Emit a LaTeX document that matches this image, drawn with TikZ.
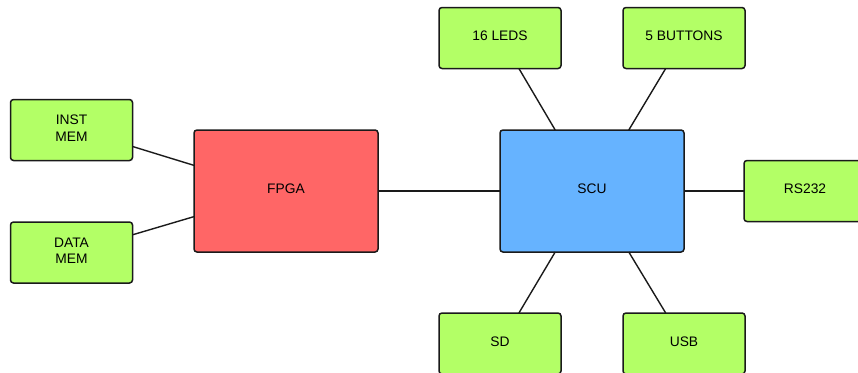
\documentclass[tikz,border=0pt]{standalone}
\usepackage{fontspec}
\setmainfont{Liberation Sans}
\usetikzlibrary{calc}
\definecolor{boxgreen}{HTML}{B3FF66}
\definecolor{boxred}{HTML}{FF6666}
\definecolor{boxblue}{HTML}{66B3FF}
\definecolor{edge}{HTML}{1A1A1A}
\begin{document}
\begin{tikzpicture}[x=1pt,y=-1pt,
  block/.style={draw=edge, line width=1.5pt, rounded corners=3pt,
    align=center, inner sep=0pt, outer sep=0pt,
    font=\fontsize{13.8}{16.6}\selectfont,
    text height=10pt, text depth=4.2pt},
  twoline/.style={text height=26.6pt, text depth=4.2pt},
  small/.style={block, fill=boxgreen, minimum width=122pt, minimum height=61pt},
  big/.style={block, minimum width=184pt, minimum height=122pt},
  link/.style={draw=edge, line width=1.4pt}]
  \useasboundingbox (0,0) rectangle (858,372);

  % main units
  \node[big, fill=boxred]  (fpga) at (286,191) {FPGA};
  \node[big, fill=boxblue] (scu)  at (592,191) {SCU};

  % peripherals
  \node[small, twoline] (inst)  at (71.5,130)  {INST\\MEM};
  \node[small, twoline] (data)  at (71.5,252.5){DATA\\MEM};
  \node[small] (leds)  at (500,38)    {16 LEDS};
  \node[small] (btns)  at (684,38)    {5 BUTTONS};
  \node[small] (rs)    at (805,191)   {RS232};
  \node[small] (sd)    at (500,343.5) {SD};
  \node[small] (usb)   at (684,343.5) {USB};

  % connections
  \draw[link] ($(inst.north east)!0.77!(inst.south east)$) -- ($(fpga.north west)!0.29!(fpga.south west)$);
  \draw[link] ($(data.north east)!0.21!(data.south east)$) -- ($(fpga.north west)!0.71!(fpga.south west)$);
  \draw[link] (fpga.east) -- (scu.west);
  \draw[link] (scu.east) -- (rs.west);
  \draw[link] ($(leds.south west)!0.655!(leds.south east)$) -- ($(scu.north west)!0.3!(scu.north east)$);
  \draw[link] ($(btns.south west)!0.35!(btns.south east)$) -- ($(scu.north west)!0.7!(scu.north east)$);
  \draw[link] ($(sd.north west)!0.655!(sd.north east)$) -- ($(scu.south west)!0.3!(scu.south east)$);
  \draw[link] ($(usb.north west)!0.35!(usb.north east)$) -- ($(scu.south west)!0.7!(scu.south east)$);
\end{tikzpicture}
\end{document}
